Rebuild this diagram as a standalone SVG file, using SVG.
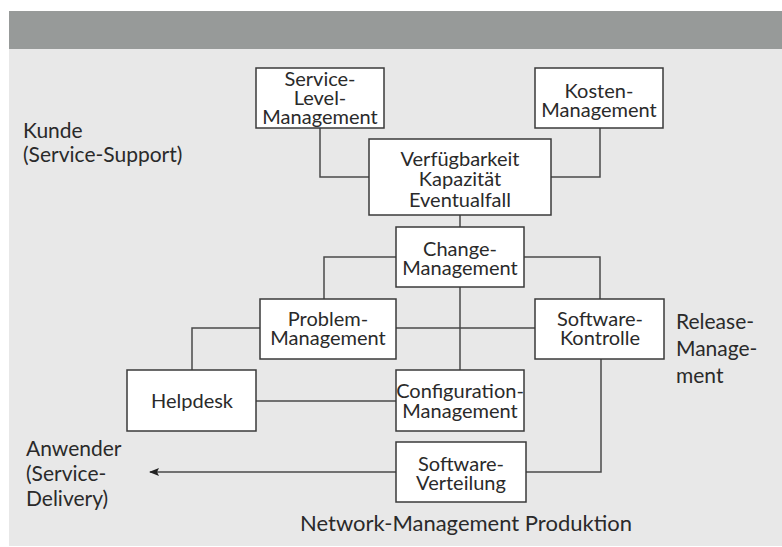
<svg xmlns="http://www.w3.org/2000/svg" width="782" height="547" viewBox="0 0 782 547">
<defs>
<style>
.bg{fill:#e8e8e8}
.bar{fill:#979a99}
.box{fill:#fff;stroke:#3a3a3a;stroke-width:1.5}
.ln{fill:none;stroke:#4a4a4a;stroke-width:1.5}
text{font-family:"Lato","Open Sans","Liberation Sans",sans-serif;fill:#2a2a2a;font-size:20px}
.c{text-anchor:middle}
.big{font-size:21px}
</style>
<marker id="arr" markerWidth="10" markerHeight="8" refX="9" refY="4" orient="auto" markerUnits="userSpaceOnUse">
<path d="M0,0 L10,4 L0,8 L2,4 Z" fill="#222"/>
</marker>
</defs>
<rect class="bg" x="9" y="49" width="773" height="497"/>
<rect class="bar" x="9" y="11" width="773" height="38"/>
<g id="connectors">
<polyline class="ln" points="320,128 320,177 369,177"/>
<polyline class="ln" points="600,128 600,177 551,177"/>
<line class="ln" x1="460" y1="215" x2="460" y2="227"/>
<polyline class="ln" points="396,257 324,257 324,299"/>
<polyline class="ln" points="524,257 600,257 600,299"/>
<line class="ln" x1="460" y1="287" x2="460" y2="370"/>
<line class="ln" x1="396" y1="328" x2="535" y2="328"/>
<polyline class="ln" points="260,328 192,328 192,370"/>
<line class="ln" x1="256" y1="401" x2="396" y2="401"/>
<polyline class="ln" points="601,359 601,472 526,472"/>
<line class="ln" x1="396" y1="472" x2="150" y2="472" marker-end="url(#arr)"/>
</g>
<g id="slm"><rect class="box" x="256" y="68" width="128" height="60"/>
<text class="c" x="320" y="86">Service-</text><text class="c" x="320" y="105">Level-</text><text class="c" x="320" y="124">Management</text></g>
<g id="kosten"><rect class="box" x="535" y="68" width="128" height="60"/>
<text class="c" x="599" y="98">Kosten-</text><text class="c" x="599" y="117">Management</text></g>
<g id="verfuegbarkeit"><rect class="box" x="369" y="139" width="182" height="76"/>
<text class="c" x="460" y="166">Verfügbarkeit</text><text class="c" x="460" y="186">Kapazität</text><text class="c" x="460" y="207">Eventualfall</text></g>
<g id="change"><rect class="box" x="396" y="227" width="128" height="60"/>
<text class="c" x="460" y="256">Change-</text><text class="c" x="460" y="275">Management</text></g>
<g id="problem"><rect class="box" x="260" y="299" width="136" height="60"/>
<text class="c" x="328" y="326">Problem-</text><text class="c" x="328" y="345">Management</text></g>
<g id="swkontrolle"><rect class="box" x="535" y="299" width="129" height="60"/>
<text class="c" x="600" y="326">Software-</text><text class="c" x="600" y="345">Kontrolle</text></g>
<g id="helpdesk"><rect class="box" x="127" y="370" width="129" height="61"/>
<text class="c" x="192" y="408">Helpdesk</text></g>
<g id="config"><rect class="box" x="396" y="370" width="128" height="61"/>
<text class="c" x="460" y="398">Configuration-</text><text class="c" x="460" y="418">Management</text></g>
<g id="swverteilung"><rect class="box" x="396" y="442" width="130" height="60"/>
<text class="c" x="461" y="471">Software-</text><text class="c" x="461" y="490">Verteilung</text></g>
<g id="labels">
<text class="big" x="23" y="138">Kunde</text>
<text class="big" x="23" y="162">(Service-Support)</text>
<text class="big" x="676" y="329">Release-</text>
<text class="big" x="676" y="356">Manage-</text>
<text class="big" x="676" y="383">ment</text>
<text class="big" x="26" y="456">Anwender</text>
<text class="big" x="26" y="481">(Service-</text>
<text class="big" x="26" y="506">Delivery)</text>
<text class="big c" x="466" y="531" style="font-size:22px">Network-Management Produktion</text>
</g>
</svg>
